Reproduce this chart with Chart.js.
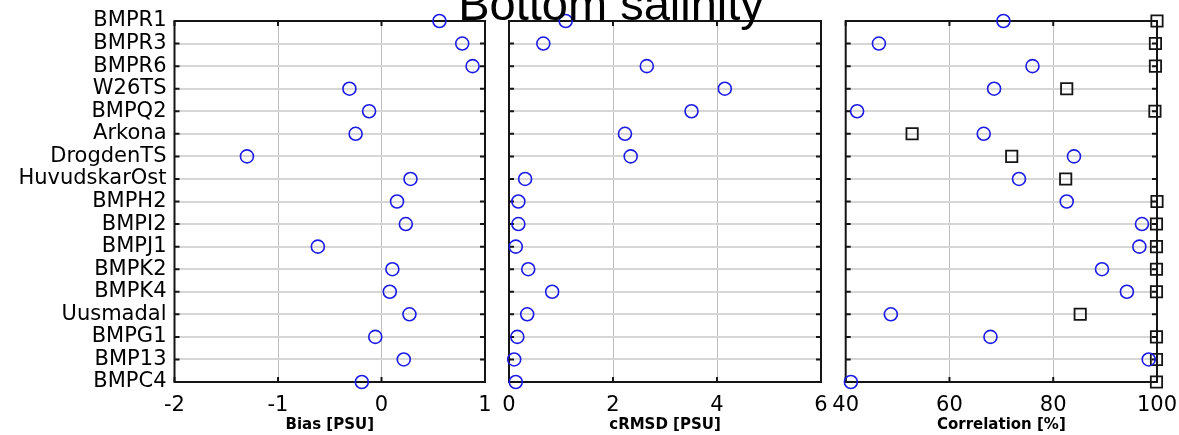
<!DOCTYPE html>
<html>
<head>
<meta charset="utf-8">
<script src="https://cdn.jsdelivr.net/npm/chart.js@4.4.1/dist/chart.umd.min.js"></script>
<style>
  body { margin: 0; background: #fff; }
  #wrap { position: relative; width: 1179px; height: 435px; overflow: hidden; }
  #wrap canvas { position: absolute; left: 0; top: 0; }
</style>
</head>
<body>
<div id="wrap">
  <canvas id="bias" width="1179" height="435"></canvas>
  <canvas id="crmsd" width="1179" height="435"></canvas>
  <canvas id="corr" width="1179" height="435"></canvas>
</div>
<script>
// stations, top to bottom
const stations = ['BMPR1', 'BMPR3', 'BMPR6', 'W26TS', 'BMPQ2', 'Arkona', 'DrogdenTS', 'HuvudskarOst',
  'BMPH2', 'BMPI2', 'BMPJ1', 'BMPK2', 'BMPK4', 'Uusmadal', 'BMPG1', 'BMP13', 'BMPC4'];

const bias = [0.56, 0.78, 0.88, -0.31, -0.12, -0.25, -1.30, 0.28, 0.15, 0.235, -0.615, 0.105, 0.08, 0.27, -0.06, 0.215, -0.19];
const crmsd = [1.09, 0.66, 2.65, 4.15, 3.51, 2.23, 2.34, 0.31, 0.18, 0.18, 0.13, 0.37, 0.83, 0.35, 0.16, 0.10, 0.13];
const corrBlue = [70.4, 46.4, 76.0, 68.6, 42.2, 66.6, 84.0, 73.4, 82.6, 97.1, 96.6, 89.4, 94.2, 48.7, 67.9, 98.4, 41.0];
const corrBlack = [100, 99.7, 99.7, 82.6, 99.6, 52.8, 72.0, 82.4, 100, 99.9, 99.9, 99.9, 99.9, 85.2, 99.9, 99.9, 99.9];

const biasTicks = [-2, -1, 0, 1];
const crmsdTicks = [0, 2, 4, 6];
const corrTicks = [40, 60, 80, 100];

const titleText = 'Bottom salinity';

const framePlugin = {
  id: 'frame',
  beforeDatasetsDraw(chart) {
    const { ctx, chartArea: a, scales } = chart;
    ctx.save();
    ctx.strokeStyle = '#151515';
    ctx.lineWidth = 2;
    ctx.strokeRect(a.left, a.top, a.width, a.height);
    ctx.beginPath();
    scales.y.ticks.forEach((t, i) => {
      const y = scales.y.getPixelForTick(i);
      ctx.moveTo(a.left, y); ctx.lineTo(a.left + 5, y);
      ctx.moveTo(a.right, y); ctx.lineTo(a.right - 5, y);
    });
    scales.x.ticks.forEach((t, i) => {
      const x = scales.x.getPixelForTick(i);
      ctx.moveTo(x, a.top); ctx.lineTo(x, a.top + 5);
      ctx.moveTo(x, a.bottom); ctx.lineTo(x, a.bottom - 5);
    });
    ctx.stroke();
    ctx.restore();
  }
};

const titlePlugin = {
  id: 'bigTitle',
  afterDraw(chart) {
    const ctx = chart.ctx;
    ctx.save();
    ctx.font = '47px "Liberation Sans", Arial, sans-serif';
    ctx.fillStyle = '#000';
    ctx.textAlign = 'center';
    ctx.textBaseline = 'alphabetic';
    ctx.fillText(titleText, 611, 20);
    ctx.restore();
  }
};

function circles(values) {
  return {
    data: values.map((v, i) => ({ x: v, y: stations[i] })),
    pointStyle: 'circle',
    pointRadius: 6.5,
    pointHoverRadius: 6.5,
    borderColor: '#1a1ae6',
    backgroundColor: 'rgba(0,0,0,0)',
    borderWidth: 1.6,
    clip: false
  };
}

function squares(values) {
  return {
    data: values.map((v, i) => ({ x: v, y: stations[i] })),
    pointStyle: 'rect',
    pointRadius: 8,
    pointHoverRadius: 8,
    borderColor: '#151515',
    backgroundColor: 'rgba(0,0,0,0)',
    borderWidth: 1.8,
    clip: false
  };
}

function makePanel(id, datasets, ticks, label, padLeft, yWidth, padRight, showNames, extraPlugins) {
  const ctx = document.getElementById(id).getContext('2d');
  return new Chart(ctx, {
    type: 'scatter',
    data: { datasets: datasets },
    plugins: [framePlugin].concat(extraPlugins || []),
    options: {
      responsive: false,
      animation: false,
      devicePixelRatio: 1,
      layout: { padding: { left: padLeft, right: padRight, top: 21, bottom: 0 } },
      plugins: { legend: { display: false }, tooltip: { enabled: false } },
      scales: {
        x: {
          type: 'linear',
          min: ticks[0],
          max: ticks[ticks.length - 1],
          ticks: {
            stepSize: ticks[1] - ticks[0],
            color: '#000',
            padding: 11,
            font: { family: '"DejaVu Sans"', size: 21 },
            maxRotation: 0
          },
          grid: { color: '#bdbdbd', lineWidth: 1, drawTicks: false },
          border: { display: false },
          title: {
            display: true,
            text: label,
            color: '#000',
            font: { family: '"DejaVu Sans"', size: 15, weight: 'bold' },
            padding: { top: 0, bottom: 1 }
          },
          afterFit(scale) {
            scale.height = 53;
            // tick labels may hang over the edges, like in the original
            scale.paddingLeft = 0;
            scale.paddingRight = 0;
          }
        },
        y: {
          type: 'category',
          labels: stations,
          offset: false,
          ticks: {
            display: showNames,
            autoSkip: false,
            color: '#000',
            padding: 8,
            font: { family: '"DejaVu Sans"', size: 21 }
          },
          grid: { color: '#d6d6d6', lineWidth: 2, drawTicks: false },
          border: { display: false },
          afterFit(scale) { scale.width = yWidth; }
        }
      }
    }
  });
}

makePanel('bias', [circles(bias)], biasTicks, 'Bias [PSU]', 0, 174.5, 1179 - 485, true);
makePanel('crmsd', [circles(crmsd)], crmsdTicks, 'cRMSD [PSU]', 509, 0, 1179 - 821, false);
makePanel('corr', [circles(corrBlue), squares(corrBlack)], corrTicks, 'Correlation [%]', 845.7, 0, 1179 - 1157, false, [titlePlugin]);
</script>
</body>
</html>
